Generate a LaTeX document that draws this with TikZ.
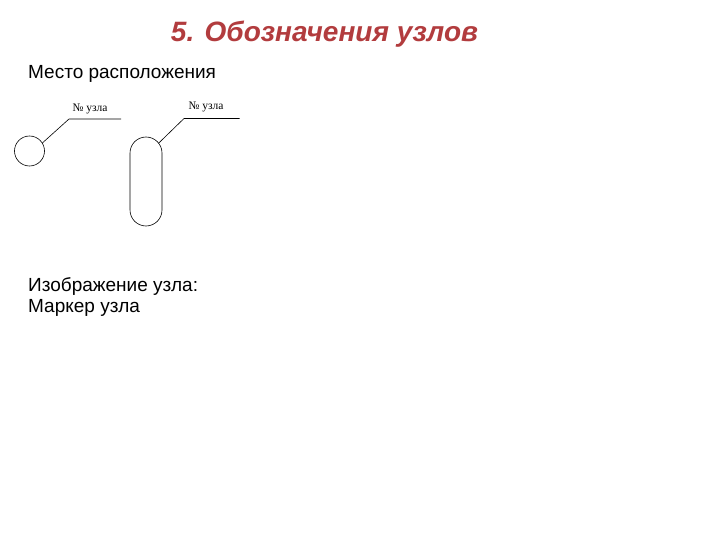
\documentclass[tikz,border=0pt]{standalone}
\usepackage{fontspec}
\setmainfont{Liberation Sans}
\newfontfamily\labelfont{Liberation Serif}
\usepackage{xcolor}
\usepackage{tikz}
\usetikzlibrary{positioning}
\definecolor{titlered}{RGB}{178,60,62}

\begin{document}
\begin{tikzpicture}[x=1pt, y=-1pt,
    leader/.style={line width=0.6pt},
    numlabel/.style={font=\labelfont\fontsize{11.5}{13}\selectfont, inner sep=0pt, anchor=base},
    bodytext/.style={font=\fontsize{19}{22}\selectfont, inner sep=0pt, anchor=base west}]
    \useasboundingbox (0,0) rectangle (720,540);

    % Title
    \node[font=\bfseries\itshape\fontsize{28}{33}\selectfont, text=titlered, inner sep=0pt, anchor=base] (title) at (324.5,42) {5. Обозначения узлов};

    % Location
    \node[bodytext] (place) at (28,79) {Место расположения};

    % Round node with leader
    \node[circle, draw, line width=0.6pt, minimum size=30, inner sep=0pt] (roundnode) at (29.5,151) {};
    \coordinate (roundknee) at (69,119);
    \coordinate (roundend) at (121,119);
    \draw[leader] (roundnode.32) -- (roundknee) -- (roundend);
    \node[numlabel] (roundlabel) at (90,112) {№ узла};

    % Long node with leader
    \node[draw, rectangle, rounded corners=16, line width=0.6pt, minimum width=32, minimum height=89, inner sep=0pt] (longnode) at (146,181.5) {};
    \coordinate (longstart) at (158.6,143.2);
    \coordinate (longknee) at (184,118.5);
    \coordinate (longend) at (239.5,118.5);
    \draw[leader] (longstart) -- (longknee) -- (longend);
    \node[numlabel] (longlabel) at (206,110) {№ узла};

    % Marker
    \node[bodytext] (image) at (28,291) {Изображение узла:};
    \node[bodytext] (marker) at (28,312) {Маркер узла};
\end{tikzpicture}
\end{document}
